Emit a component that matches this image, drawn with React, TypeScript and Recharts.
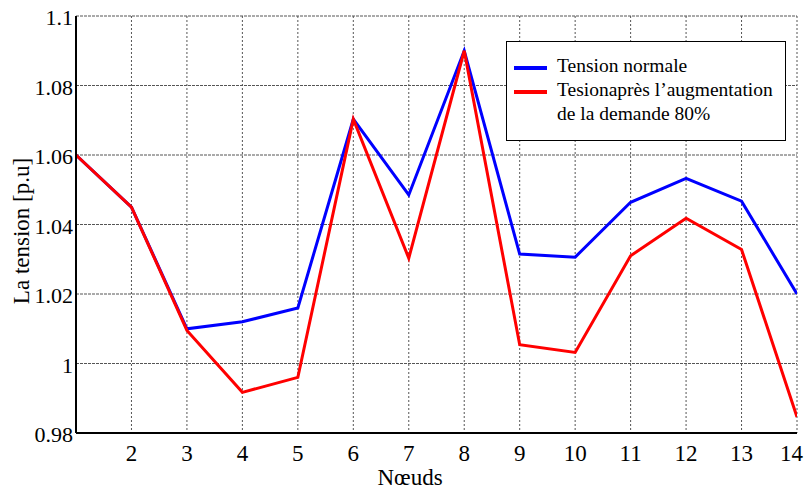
import React from "react";
import { LineChart, Line, XAxis, YAxis, CartesianGrid } from "recharts";

const nodes = [1, 2, 3, 4, 5, 6, 7, 8, 9, 10, 11, 12, 13, 14];
const tensionNormale = [1.06, 1.045, 1.01, 1.012, 1.016, 1.0703, 1.0485, 1.09, 1.0315, 1.0306, 1.0464, 1.0533, 1.0467, 1.02];
const tensionAugmentee = [1.06, 1.045, 1.0095, 0.9917, 0.996, 1.0703, 1.0303, 1.09, 1.0054, 1.0032, 1.031, 1.0418, 1.0328, 0.9846];
const xTicks = [2, 3, 4, 5, 6, 7, 8, 9, 10, 11, 12, 13, 14];
const yTicks = [0.98, 1.0, 1.02, 1.04, 1.06, 1.08, 1.1];
const seriesNames = ["Tension normale", "Tesionaprès l\u2019augmentation", "de la demande 80%"];
const seriesColors = ["#0000ff", "#ff0000"];

const data = nodes.map((n, i) => ({ node: n, normale: tensionNormale[i], augmentee: tensionAugmentee[i] }));

const FONT = "'Liberation Serif', serif";

const fmtY = (v: number) => String(Math.round(v * 100) / 100);

const renderXTick = (props: any) => {
  const { x, y, payload } = props;
  const last = payload.value === xTicks[xTicks.length - 1];
  return (
    <text
      x={last ? 803 : x}
      y={y + 20}
      textAnchor={last ? "end" : "middle"}
      style={{ fontFamily: FONT, fontSize: 23 }}
      fill="#000"
    >
      {String(payload.value)}
    </text>
  );
};

const renderYTick = (props: any) => {
  const { y, payload } = props;
  return (
    <text x={73} y={y + 9} textAnchor="end" style={{ fontFamily: FONT, fontSize: 22 }} fill="#000">
      {fmtY(payload.value)}
    </text>
  );
};

export default function App() {
  return (
    <div style={{ position: "absolute", left: 0, top: 0, width: 804, height: 491, background: "#fff", fontFamily: FONT }}>
      <LineChart width={804} height={491} data={data} margin={{ top: 16, right: 7, bottom: 0, left: 0 }} style={{ fontFamily: FONT }}>
        <CartesianGrid horizontal={true} vertical={false} stroke="#555" strokeWidth={1} strokeDasharray="3 1" />
        <CartesianGrid horizontal={false} vertical={true} stroke="#555" strokeWidth={1} strokeDasharray="2 2" />
        <XAxis
          dataKey="node"
          type="number"
          domain={[1, 14]}
          ticks={xTicks}
          height={58}
          axisLine={{ stroke: "#000", strokeWidth: 2 }}
          tickLine={false}
          tick={renderXTick}
          allowDataOverflow
        />
        <XAxis xAxisId="top" orientation="top" type="number" domain={[1, 14]} height={0} tick={false} tickLine={false} axisLine={{ stroke: "#000", strokeWidth: 2 }} />
        <YAxis
          type="number"
          domain={[0.98, 1.1]}
          ticks={yTicks}
          width={76}
          axisLine={{ stroke: "#000", strokeWidth: 2 }}
          tickLine={false}
          tick={renderYTick}
          allowDataOverflow
        />
        <YAxis yAxisId="right" orientation="right" type="number" domain={[0.98, 1.1]} width={0} tick={false} tickLine={false} axisLine={{ stroke: "#000", strokeWidth: 2 }} />
        <Line type="linear" dataKey="normale" stroke={seriesColors[0]} strokeWidth={3} dot={false} isAnimationActive={false} />
        <Line type="linear" dataKey="augmentee" stroke={seriesColors[1]} strokeWidth={3} dot={false} isAnimationActive={false} />
        <text x={21} y={231} transform="rotate(-90 21 231)" textAnchor="middle" dominantBaseline="central" style={{ fontFamily: FONT, fontSize: 23 }} fill="#000">
          La tension [p.u]
        </text>
        <text x={410} y={485} textAnchor="middle" style={{ fontFamily: FONT, fontSize: 23 }} fill="#000">
          Nœuds
        </text>
      </LineChart>
      <div
        style={{
          position: "absolute",
          left: 506,
          top: 41,
          width: 280,
          height: 100,
          boxSizing: "border-box",
          border: "1.5px solid #000",
          background: "#fff",
          fontFamily: FONT,
          fontSize: 19.5,
          color: "#000",
        }}
      >
        <div style={{ position: "absolute", left: 7, top: 24, width: 33, height: 4, background: seriesColors[0] }} />
        <div style={{ position: "absolute", left: 7, top: 48, width: 33, height: 4, background: seriesColors[1] }} />
        <div style={{ position: "absolute", left: 50, top: 12, lineHeight: "24px", whiteSpace: "nowrap" }}>
          <div>{seriesNames[0]}</div>
          <div>{seriesNames[1]}</div>
          <div>{seriesNames[2]}</div>
        </div>
      </div>
    </div>
  );
}
